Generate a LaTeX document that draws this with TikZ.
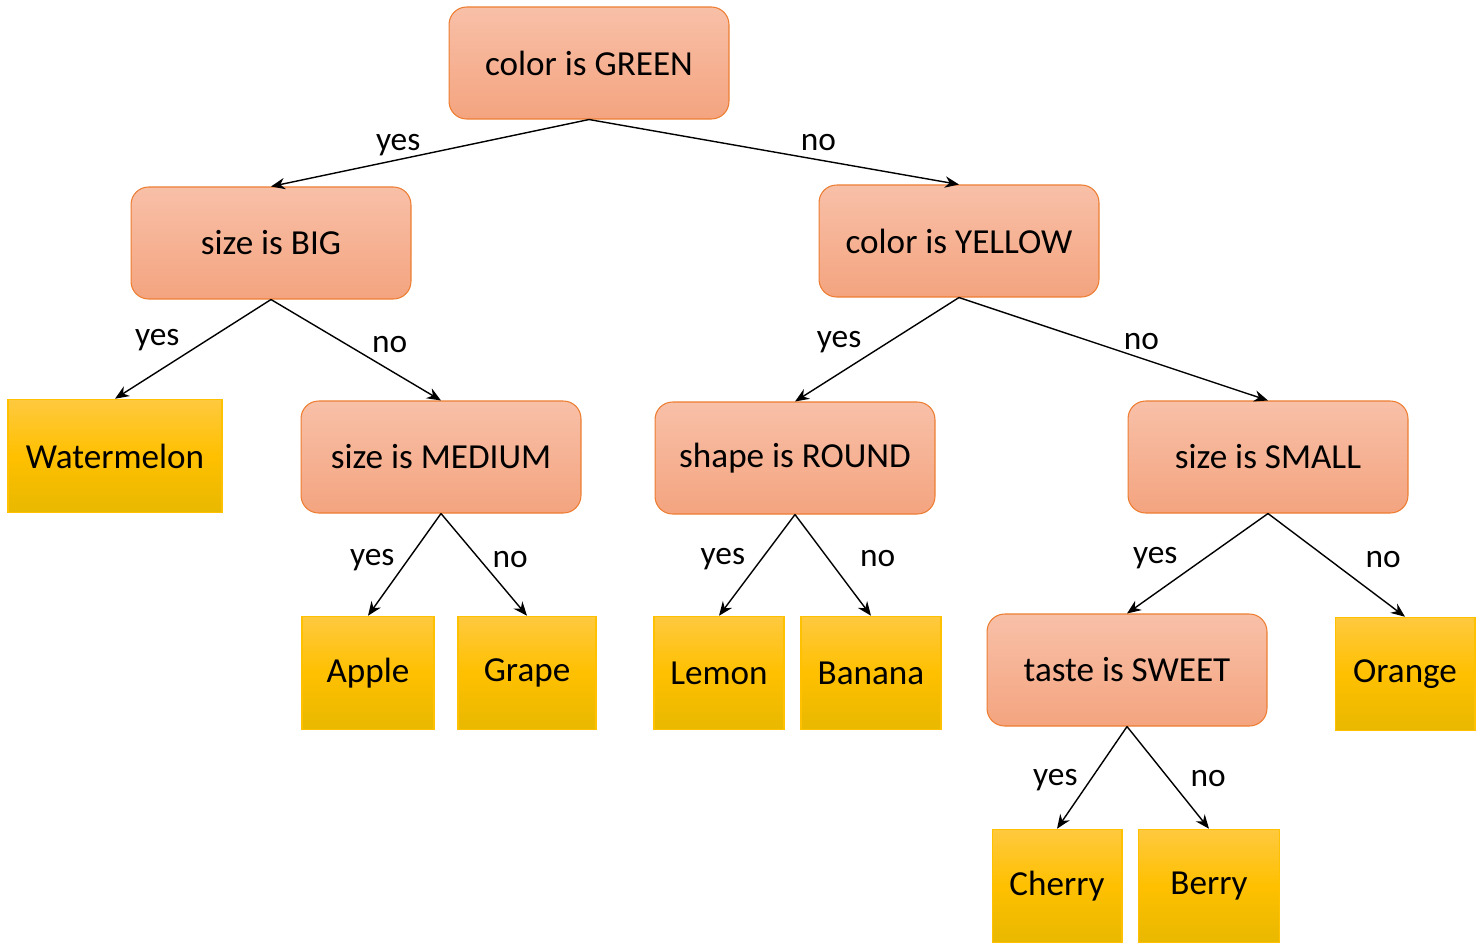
\documentclass[tikz,border=0pt]{standalone}
\usepackage{fontspec}
\setmainfont{Carlito}
\usepackage{xcolor}
\usetikzlibrary{
    arrows.meta,
    calc,
    positioning
}
\definecolor{testtop}{HTML}{F8C0A8}
\definecolor{testbot}{HTML}{F4A47F}
\definecolor{testline}{HTML}{ED7D31}
\definecolor{fruittop}{HTML}{FFC93F}
\definecolor{fruitmid}{HTML}{FFC000}
\definecolor{fruitbot}{HTML}{E8B800}
\tikzset{
    test/.style={draw=testline, line width=0.6pt, rounded corners=10pt,
        top color=testtop, bottom color=testbot,
        minimum width=5.6cm, minimum height=2.24cm,
        font=\fontsize{20}{24}\selectfont},
    fruit/.style={draw=fruitmid, line width=0.6pt,
        top color=fruittop, bottom color=fruitbot, middle color=fruitmid,
        minimum height=2.27cm, font=\fontsize{20}{24}\selectfont},
    lbl/.style={font=\fontsize{19}{22}\selectfont, inner sep=2pt},
    branch/.style={-{Stealth[length=8pt,width=6.5pt]}, line width=0.8pt}
}

\begin{document}
\begin{tikzpicture}[x=0.02cm, y=-0.02cm]
                        \useasboundingbox (0,0) rectangle (1483,951);

                        \node[test] (green) at (589, 63) {color is GREEN};
                        \node[test] (big) at (271, 243) {size is BIG};
                        \node[test] (yellow) at (959, 241) {color is YELLOW};
                        \node[fruit, minimum width=4.28cm] (watermelon) at (115, 456) {Watermelon};
                        \node[test] (medium) at (441, 457) {size is MEDIUM};
                        \node[test] (round) at (795, 458) {shape is ROUND};
                        \node[test] (small) at (1268, 457) {size is SMALL};
                        \node[fruit, minimum width=2.64cm] (apple) at (368, 673) {Apple};
                        \node[fruit, minimum width=2.76cm] (grape) at (527, 673) {Grape};
                        \node[fruit, minimum width=2.6cm] (lemon) at (719, 673) {Lemon};
                        \node[fruit, minimum width=2.8cm] (banana) at (871, 673) {Banana};
                        \node[test] (sweet) at (1127, 670) {taste is SWEET};
                        \node[fruit, minimum width=2.8cm] (orange) at (1405, 674) {Orange};
                        \node[fruit, minimum width=2.6cm] (cherry) at (1057, 886) {Cherry};
                        \node[fruit, minimum width=2.82cm] (berry) at (1209, 886) {Berry};

                        \draw
                        (green.south) edge[branch] node[lbl, pos=0.6, above] (l1) {yes} (big.north)
                        (green.south) edge[branch] node[lbl, pos=0.62, above=3pt] (l2) {no} (yellow.north)
                        (big.south) edge[branch] node[lbl, pos=0.56, above left] (l3) {yes} (watermelon.north)
                        (big.south) edge[branch] node[lbl, pos=0.57, above right] (l4) {no} (medium.north)
                        (yellow.south) edge[branch] node[lbl, pos=0.57, above left] (l5) {yes} (round.north)
                        (yellow.south) edge[branch] node[lbl, pos=0.59, above=2.5pt] (l6) {no} (small.north)
                        (medium.south) edge[branch] node[lbl, pos=0.46, left=5pt] (l7) {yes} (apple.north)
                        (medium.south) edge[branch] node[lbl, pos=0.45, right=5pt] (l8) {no} (grape.north)
                        (round.south) edge[branch] node[lbl, pos=0.44, left=7pt] (l9) {yes} (lemon.north)
                        (round.south) edge[branch] node[lbl, pos=0.43, right=16pt] (l10) {no} (banana.north)
                        (small.south) edge[branch] node[lbl, pos=0.45, left=13pt] (l11) {yes} (sweet.north)
                        (small.south) edge[branch] node[lbl, pos=0.45, right=18pt] (l12) {no} (orange.north)
                        (sweet.south) edge[branch] node[lbl, pos=0.52, left=5pt] (l13) {yes} (cherry.north)
                        (sweet.south) edge[branch] node[lbl, pos=0.51, right=10pt] (l14) {no} (berry.north);
                    \end{tikzpicture}
\end{document}
